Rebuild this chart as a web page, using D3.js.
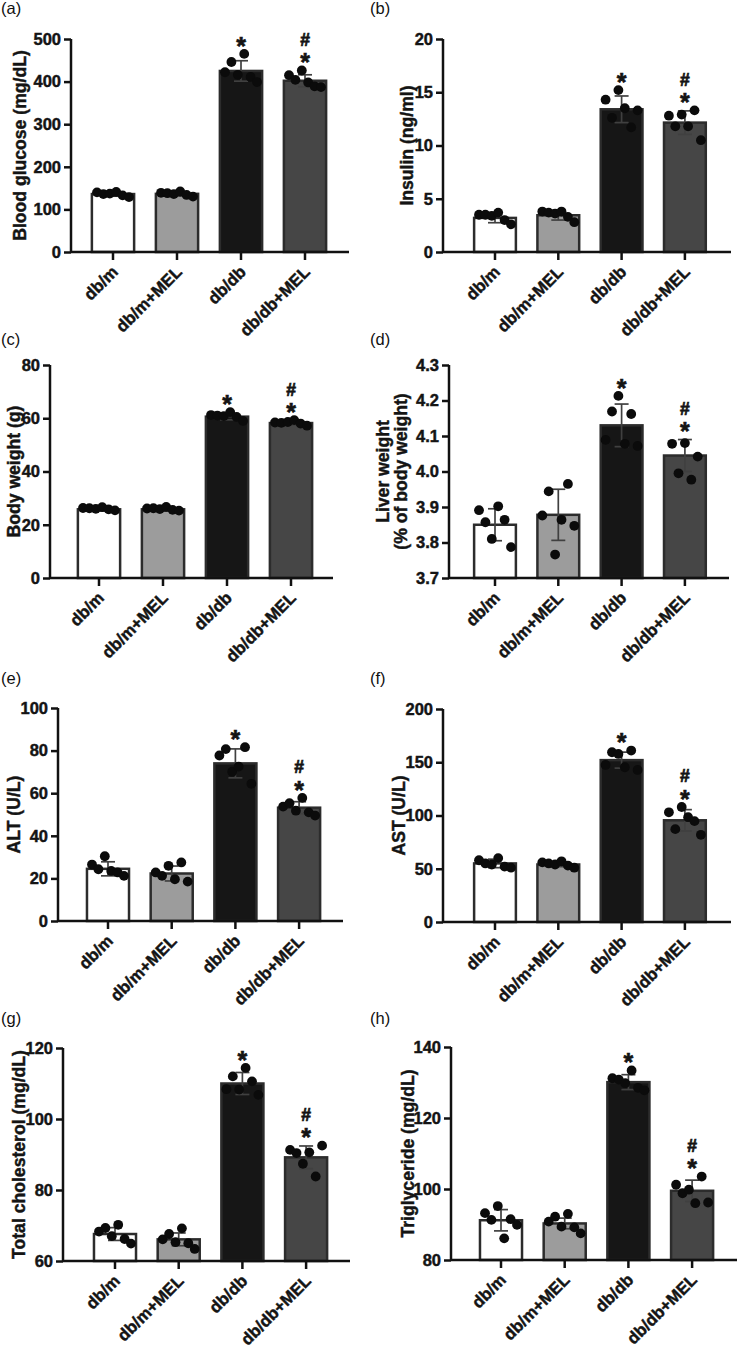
<!DOCTYPE html>
<html><head><meta charset="utf-8">
<script src="https://cdn.jsdelivr.net/npm/d3@7"></script>
<style>
body{margin:0;background:#fff}
svg{display:block}
text{font-family:"Liberation Sans",Arial,Helvetica,sans-serif}
</style>
</head><body>
<svg id="chart" width="738" height="1352"></svg>
<script>
// ---------------- DATA ----------------
const categories = ["db/m", "db/m+MEL", "db/db", "db/db+MEL"];
const starGroups = ["db/db", "db/db+MEL"];
const hashGroups = ["db/db+MEL"];

// (a) Blood glucose (mg/dL)
const glucoseTicks = [0, 100, 200, 300, 400, 500];
const glucoseMeans = [136, 136.5, 425, 402];
const glucoseSD = [5, 5, 24, 14];
const glucoseDots = [
  [140, 136, 137, 141, 133, 129],
  [139, 138, 136, 142, 134, 130],
  [422, 446, 416, 465, 411, 399],
  [415, 404, 426, 398, 389, 387]
];

// (b) Insulin (ng/ml)
const insulinTicks = [0, 5, 10, 15, 20];
const insulinMeans = [3.2, 3.45, 13.4, 12.15];
const insulinSD = [0.45, 0.45, 1.25, 1.1];
const insulinDots = [
  [3.5, 3.5, 3.4, 3.7, 3.0, 2.6],
  [3.8, 3.7, 3.6, 3.8, 3.3, 2.8],
  [14.3, 12.6, 15.2, 13.5, 11.7, 13.3],
  [12.8, 11.8, 12.9, 11.8, 13.3, 10.5]
];

// (c) Body weight (g)
const weightTicks = [0, 20, 40, 60, 80];
const weightMeans = [25.8, 25.8, 60.6, 58.2];
const weightSD = [0.6, 0.7, 1.2, 0.8];
const weightDots = [
  [26.3, 26.2, 26.0, 26.6, 25.8, 25.4],
  [26.1, 26.2, 25.9, 26.7, 25.6, 25.3],
  [61.2, 61.0, 60.8, 62.3, 60.5, 59.0],
  [58.4, 58.3, 58.6, 59.3, 58.0, 57.2]
];

// (d) Liver weight (% of body weight)
const liverTicks = [3.7, 3.8, 3.9, 4.0, 4.1, 4.2, 4.3];
const liverMeans = [3.85, 3.878, 4.13, 4.045];
const liverSD = [0.045, 0.072, 0.06, 0.045];
const liverDots = [
  [3.891, 3.857, 3.81, 3.902, 3.864, 3.787],
  [3.876, 3.944, 3.766, 3.864, 3.965, 3.847],
  [4.089, 4.169, 4.213, 4.078, 4.162, 4.072],
  [4.078, 3.995, 4.08, 3.977, 4.042]
];

// (e) ALT (U/L)
const altTicks = [0, 20, 40, 60, 80, 100];
const altMeans = [24.5, 22.3, 74, 53.2];
const altSD = [3.3, 3.5, 6.8, 2.8];
const altDots = [
  [26.5, 24.3, 30.4, 23.5, 22.8, 21.2],
  [22.8, 21.2, 25.9, 19.6, 27.5, 18.5],
  [77.7, 80.7, 70.1, 72.5, 81.6, 64.4],
  [53.7, 55.3, 51.8, 57.8, 51.0, 49.5]
];

// (f) AST (U/L)
const astTicks = [0, 50, 100, 150, 200];
const astMeans = [55, 54, 152, 95.5];
const astSD = [4, 2, 7.5, 10];
const astDots = [
  [58, 55, 54, 60, 52, 51],
  [56, 55, 54, 57, 53, 51],
  [147.5, 159.4, 157.8, 145.3, 161, 142.8],
  [103, 87.2, 108, 98.4, 94.7, 81.9]
];

// (g) Total cholesterol (mg/dL)
const tcTicks = [60, 80, 100, 120];
const tcMeans = [67.6, 66.1, 110, 89.2];
const tcSD = [1.8, 1.8, 3.1, 3.2];
const tcDots = [
  [68.3, 69.3, 67.0, 70.2, 66.2, 64.9],
  [66.1, 67.6, 65.3, 69.2, 65.0, 63.4],
  [108.4, 112.0, 108.3, 114.4, 110.6, 106.8],
  [91.3, 90.4, 87.4, 90.6, 83.8, 92.5]
];

// (h) Triglyceride (mg/dL)
const tgTicks = [80, 100, 120, 140];
const tgMeans = [91.2, 90.3, 130.1, 99.5];
const tgSD = [3, 1.5, 2.1, 3];
const tgDots = [
  [93.2, 91.3, 95.2, 86.1, 91.5, 89.9],
  [90.8, 92.2, 89.4, 93.0, 89.2, 87.5],
  [131.2, 130.8, 129.8, 133.4, 128.5, 127.8],
  [101.2, 98.8, 99.8, 96.0, 103.5, 96.2]
];

// ---------------- LAYOUT ----------------
const panels = [
  {tag:"(a)", title:["Blood glucose (mg/dL)"], ticks:glucoseTicks, means:glucoseMeans, sd:glucoseSD, dots:glucoseDots, fmt:"d",
   L:{axisX:71, yTop:39, yBot:252, c0:113, step:64, xEnd:349, titleX:[20], tagX:1, tagY:14}},
  {tag:"(b)", title:["Insulin (ng/ml)"], ticks:insulinTicks, means:insulinMeans, sd:insulinSD, dots:insulinDots, fmt:"d",
   L:{axisX:443, yTop:39, yBot:252, c0:495, step:63.3, xEnd:731, titleX:[407], tagX:370, tagY:14}},
  {tag:"(c)", title:["Body weight (g)"], ticks:weightTicks, means:weightMeans, sd:weightSD, dots:weightDots, fmt:"d",
   L:{axisX:50, yTop:365, yBot:578, c0:99, step:64, xEnd:333, titleX:[14], tagX:1, tagY:345}},
  {tag:"(d)", title:["Liver weight", "(% of body weight)"], ticks:liverTicks, means:liverMeans, sd:liverSD, dots:liverDots, fmt:".1f",
   L:{axisX:449, yTop:365, yBot:578, c0:495, step:63.3, xEnd:729, titleX:[383, 401], tagX:370, tagY:345}},
  {tag:"(e)", title:["ALT (U/L)"], ticks:altTicks, means:altMeans, sd:altSD, dots:altDots, fmt:"d",
   L:{axisX:58, yTop:708, yBot:921, c0:108, step:63.7, xEnd:343, titleX:[14], tagX:1, tagY:684}},
  {tag:"(f)", title:["AST (U/L)"], ticks:astTicks, means:astMeans, sd:astSD, dots:astDots, fmt:"d",
   L:{axisX:443, yTop:709, yBot:922, c0:495, step:63.3, xEnd:731, titleX:[399], tagX:370, tagY:684}},
  {tag:"(g)", title:["Total cholesterol (mg/dL)"], ticks:tcTicks, means:tcMeans, sd:tcSD, dots:tcDots, fmt:"d",
   L:{axisX:63, yTop:1048, yBot:1261, c0:115, step:63.7, xEnd:350, titleX:[19], tagX:1, tagY:1024}},
  {tag:"(h)", title:["Triglyceride (mg/dL)"], ticks:tgTicks, means:tgMeans, sd:tgSD, dots:tgDots, fmt:"d",
   L:{axisX:451, yTop:1047, yBot:1260, c0:501, step:63.7, xEnd:737, titleX:[408], tagX:370, tagY:1024}}
];

const fills = d3.scaleOrdinal().domain(categories).range(["#ffffff", "#9c9c9c", "#161616", "#464646"]);
const INK = "#141414";
const FONT = "Liberation Sans, Arial, sans-serif";

const svg = d3.select("#chart");

function heavy(sel, w) {
  return sel.attr("font-weight", "bold").attr("fill", INK)
    .attr("stroke", INK).attr("stroke-width", w).attr("paint-order", "stroke")
    .attr("font-family", FONT);
}

panels.forEach(p => {
  const L = p.L;
  const g = svg.append("g");
  const domain = [p.ticks[0], p.ticks[p.ticks.length - 1]];
  const y = d3.scaleLinear().domain(domain).range([L.yBot, L.yTop]);
  const x = d3.scaleBand().domain(categories)
    .range([L.c0 - L.step / 2, L.c0 + 3.5 * L.step])
    .paddingInner(0.34).paddingOuter(0.17);
  const bw = x.bandwidth();
  const cx = c => x(c) + bw / 2;

  // panel tag
  g.append("text").attr("x", L.tagX).attr("y", L.tagY)
    .attr("font-size", 16.5).attr("fill", "#111").attr("font-family", FONT).text(p.tag);

  // bars
  g.selectAll("rect.bar").data(categories).join("rect")
    .attr("class", "bar")
    .attr("x", c => x(c))
    .attr("width", bw)
    .attr("y", (c, i) => y(p.means[i]))
    .attr("height", (c, i) => y(domain[0]) - y(p.means[i]))
    .attr("fill", c => fills(c))
    .attr("stroke", "#2c2c2c").attr("stroke-width", 2.5);

  // error bars
  categories.forEach((c, i) => {
    const lo = y(p.means[i] - p.sd[i]), hi = y(p.means[i] + p.sd[i]);
    const eg = g.append("g").attr("stroke", "#404040").attr("stroke-width", 1.7);
    eg.append("line").attr("x1", cx(c)).attr("x2", cx(c)).attr("y1", lo).attr("y2", hi);
    eg.append("line").attr("x1", cx(c) - 7).attr("x2", cx(c) + 7).attr("y1", hi).attr("y2", hi);
    eg.append("line").attr("x1", cx(c) - 7).attr("x2", cx(c) + 7).attr("y1", lo).attr("y2", lo);
  });

  // dots
  categories.forEach((c, i) => {
    const vals = p.dots[i];
    const n = vals.length;
    g.selectAll(null).data(vals).join("circle")
      .attr("cx", (v, j) => cx(c) + (j - (n - 1) / 2) * 6.4)
      .attr("cy", v => y(v))
      .attr("r", 4.9)
      .attr("fill", "#0b0b0b");
  });

  // significance markers
  categories.forEach((c, i) => {
    if (!starGroups.includes(c)) return;
    const topVal = Math.max(d3.max(p.dots[i]), p.means[i] + p.sd[i]);
    const starC = y(topVal) - 14;
    heavy(g.append("text").attr("x", cx(c)).attr("y", starC + 14.8)
      .attr("text-anchor", "middle").attr("font-size", 25), 0.6).text("*");
    if (hashGroups.includes(c)) {
      heavy(g.append("text").attr("x", cx(c)).attr("y", starC - 17 + 6.5)
        .attr("text-anchor", "middle").attr("font-size", 17.5), 0.7).text("#");
    }
  });

  // y axis
  const yAxis = d3.axisLeft(y).tickValues(p.ticks).tickFormat(d3.format(p.fmt))
    .tickSize(7).tickPadding(3);
  const ya = g.append("g").attr("transform", `translate(${L.axisX},0)`).call(yAxis);
  ya.select(".domain").attr("d", `M0,${L.yBot}V${L.yTop}`).attr("stroke", "#111").attr("stroke-width", 2.5);
  ya.selectAll(".tick line").attr("stroke", "#111").attr("stroke-width", 2.5);
  heavy(ya.selectAll(".tick text").attr("font-size", 16.5), 0.45);

  // x axis
  const xAxis = d3.axisBottom(x).tickSize(8).tickFormat("");
  const xa = g.append("g").attr("transform", `translate(0,${L.yBot})`).call(xAxis);
  xa.select(".domain").attr("d", `M${L.axisX},0H${L.xEnd}`).attr("stroke", "#111").attr("stroke-width", 2.5);
  xa.selectAll(".tick line").attr("stroke", "#111").attr("stroke-width", 2.5);
  heavy(xa.selectAll(".tick").append("text")
    .attr("transform", "translate(6,21) rotate(-45)")
    .attr("text-anchor", "end")
    .attr("font-size", 16.8), 0.45)
    .text(c => c);

  // y title
  const midY = (L.yTop + L.yBot) / 2;
  p.title.forEach((t, k) => {
    heavy(g.append("text")
      .attr("transform", `translate(${L.titleX[k]},${midY}) rotate(-90)`)
      .attr("text-anchor", "middle").attr("dy", "0.35em")
      .attr("font-size", 17.6), 0.45)
      .text(t);
  });
});
</script>
</body></html>
